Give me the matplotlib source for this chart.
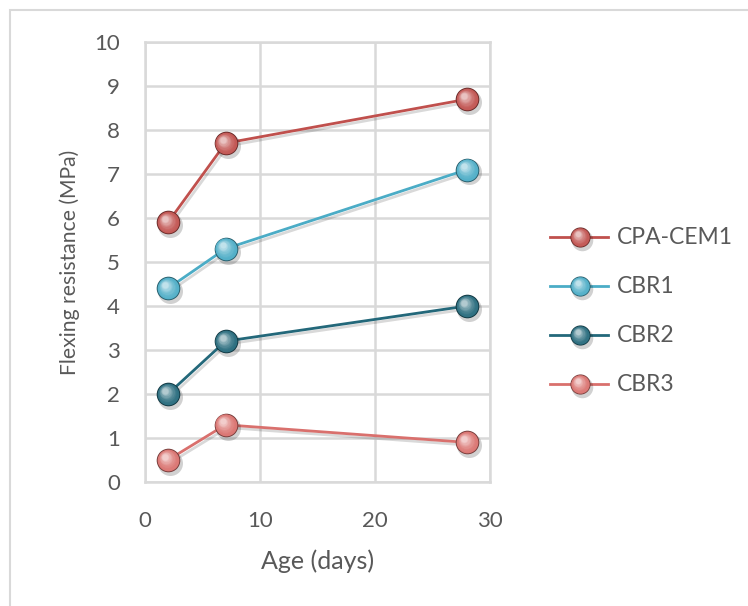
import numpy as np
import matplotlib.pyplot as plt
import matplotlib.colors as mcolors
from matplotlib.patches import Rectangle
from matplotlib.transforms import offset_copy
import matplotlib.patheffects as pe

plt.rcParams['font.family'] = ['Lato', 'DejaVu Sans']
plt.rcParams['font.size'] = 14

age = [2, 7, 28]
cpa_cem1 = [5.9, 7.7, 8.7]
cbr1 = [4.4, 5.3, 7.1]
cbr2 = [2.0, 3.2, 4.0]
cbr3 = [0.5, 1.3, 0.9]

series_names = ['CPA-CEM1', 'CBR1', 'CBR2', 'CBR3']
series_values = [cpa_cem1, cbr1, cbr2, cbr3]
series_colors = ['#c0504d', '#4bacc6', '#23687a', '#d9706d']

TEXT = '#595959'
GRID = '#d9d9d9'


def blend(c, target, t):
    c = np.array(mcolors.to_rgb(c))
    target = np.array(mcolors.to_rgb(target))
    return tuple(c + (target - c) * t)


def sphere(ax, x, y, color, size=17, zorder=5):
    """Draw shaded ball markers: shadow, dark rim, body and a highlight."""
    fig = ax.figure
    shadow = offset_copy(ax.transData, fig=fig, x=1.5, y=-2.0, units='points')
    ax.plot(x, y, 'o', ms=size + 1, color='#000000', alpha=0.18, mec='none',
            transform=shadow, zorder=zorder)
    ax.plot(x, y, 'o', ms=size, color=blend(color, 'black', 0.45), mec='none',
            zorder=zorder + 0.1)
    steps = 10
    for i in range(steps):
        t = i / (steps - 1)
        ms = size * (0.92 - 0.66 * t)
        off = offset_copy(ax.transData, fig=fig, x=-1.8 * t * size / 15,
                          y=2.2 * t * size / 15, units='points')
        ax.plot(x, y, 'o', ms=ms, color=blend(color, 'white', 0.05 + 0.6 * t ** 1.6),
                mec='none', transform=off, zorder=zorder + 0.2 + 0.01 * i)


fig = plt.figure(figsize=(7.48, 6.06), dpi=100)
fig.patches.append(Rectangle((10 / 748, -0.1), 1.2, 1 - 10 / 606 + 0.1,
                             transform=fig.transFigure, fill=False,
                             edgecolor=GRID, linewidth=1.5))

ax = fig.add_axes([145 / 748, 1 - 482 / 606, 345 / 748, 440 / 606])

line_shadow = [pe.SimpleLineShadow(offset=(1.5, -2), shadow_color='black', alpha=0.15),
               pe.Normal()]

for name, vals, col in zip(series_names, series_values, series_colors):
    ax.plot(age, vals, '-', color=col, lw=2, zorder=4, path_effects=line_shadow)
    sphere(ax, age, vals, col)

ax.set_xlim(0, 30)
ax.set_ylim(0, 10)
ax.set_xticks([0, 10, 20, 30])
ax.set_yticks(range(0, 11))
ax.grid(True, color=GRID, lw=1.8, zorder=0)
ax.set_axisbelow(True)
for s in ax.spines.values():
    s.set_color(GRID)
    s.set_linewidth(1.8)
ax.tick_params(length=0, colors=TEXT, labelsize=16)
ax.tick_params(axis='y', pad=18)
ax.tick_params(axis='x', pad=21)
ax.set_xlabel('Age (days)', color=TEXT, fontsize=18, labelpad=13)
ax.set_ylabel('Flexing resistance (MPa)', color=TEXT, fontsize=15.2, labelpad=10)

# legend drawn by hand so the ball markers match the plot
lax = fig.add_axes([540 / 748, 0.3, 200 / 748, 0.4])
lax.set_xlim(540, 740)
lax.set_ylim(0.7 * 606, 0.3 * 606)
lax.axis('off')
legend_rows = [237, 286, 335, 384]
for name, col, yy in zip(series_names, series_colors, legend_rows):
    lax.plot([550, 608], [yy, yy], '-', color=col, lw=2, zorder=4)
    sphere(lax, [580], [yy], col, size=14.5)
    lax.text(617, yy, name, color=TEXT, fontsize=16.5, va='center', ha='left')

fig.savefig('out.png', dpi=100, facecolor='white')
